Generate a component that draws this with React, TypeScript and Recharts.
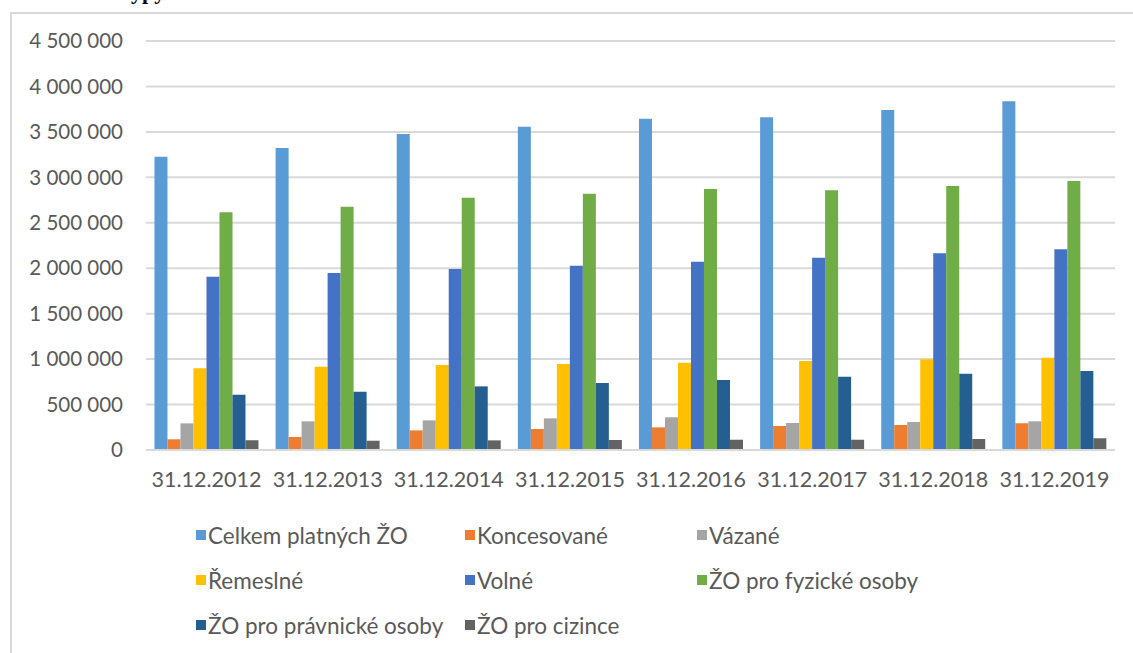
import { BarChart, Bar, XAxis, YAxis, CartesianGrid, Legend } from "recharts";

const dates = [
  "31.12.2012",
  "31.12.2013",
  "31.12.2014",
  "31.12.2015",
  "31.12.2016",
  "31.12.2017",
  "31.12.2018",
  "31.12.2019",
];

const celkem = [3227000, 3323000, 3477000, 3557000, 3645000, 3660000, 3741000, 3836000];
const koncesovane = [118000, 143000, 216000, 231000, 249000, 264000, 275000, 293000];
const vazane = [293000, 315000, 326000, 348000, 360000, 297000, 308000, 316000];
const remeslne = [899000, 917000, 935000, 946000, 961000, 979000, 998000, 1016000];
const volne = [1907000, 1947000, 1991000, 2028000, 2072000, 2116000, 2164000, 2208000];
const fyzicke = [2615000, 2677000, 2776000, 2820000, 2872000, 2857000, 2905000, 2960000];
const pravnicke = [608000, 641000, 700000, 737000, 770000, 807000, 840000, 869000];
const cizince = [106000, 102000, 106000, 110000, 113000, 113000, 121000, 129000];

const yTicks = [0, 500000, 1000000, 1500000, 2000000, 2500000, 3000000, 3500000, 4000000, 4500000];

const series = [
  { key: "celkem", name: "Celkem platných ŽO", color: "#5b9bd5", values: celkem },
  { key: "koncesovane", name: "Koncesované", color: "#ed7d31", values: koncesovane },
  { key: "vazane", name: "Vázané", color: "#a5a5a5", values: vazane },
  { key: "remeslne", name: "Řemeslné", color: "#ffc000", values: remeslne },
  { key: "volne", name: "Volné", color: "#4472c4", values: volne },
  { key: "fyzicke", name: "ŽO pro fyzické osoby", color: "#70ad47", values: fyzicke },
  { key: "pravnicke", name: "ŽO pro právnické osoby", color: "#255e91", values: pravnicke },
  { key: "cizince", name: "ŽO pro cizince", color: "#636363", values: cizince },
];

const data = dates.map((d, i) => {
  const row: Record<string, string | number> = { date: d };
  for (const s of series) row[s.key] = s.values[i];
  return row;
});

const fmt = (v: number) => String(v).replace(/\B(?=(\d{3})+(?!\d))/g, " ");

const FONT = "Lato, 'Open Sans', sans-serif";
const TEXT = "#595959";

// legend columns (left x of the swatch) and row centres, as in the Excel layout
const legendCols = [196, 465, 697];
const legendRows = [535, 580, 625];
const LEGEND_TOP = 520;
const LEGEND_H = 130;
const XAXIS_H = 70;

function LegendBox() {
  return (
    <div style={{ position: "relative", width: 1133, height: LEGEND_H }}>
      {series.map((s, i) => {
        const col = i % 3;
        const row = Math.floor(i / 3);
        return (
          <div
            key={s.key}
            style={{
              position: "absolute",
              left: legendCols[col],
              top: legendRows[row] - LEGEND_TOP - 14,
              height: 28,
              display: "flex",
              alignItems: "center",
              whiteSpace: "nowrap",
              fontFamily: FONT,
              fontSize: 22.5,
              color: TEXT,
            }}
          >
            <span
              style={{
                display: "inline-block",
                width: 10,
                height: 10,
                background: s.color,
                marginRight: 2,
              }}
            />
            {s.name}
          </div>
        );
      })}
    </div>
  );
}

export default function App() {
  return (
    <div style={{ position: "absolute", left: 0, top: 0, width: 1133, height: 653, overflow: "hidden", background: "#fff" }}>
      <div
        style={{
          position: "absolute",
          left: 118,
          top: -19,
          fontFamily: "'Liberation Serif', serif",
          fontWeight: "bold",
          fontSize: 22,
          lineHeight: "22px",
          color: "#000",
        }}
      >
        Typy
      </div>
      <div
        style={{
          position: "absolute",
          left: 10,
          top: 12,
          width: 1200,
          height: 700,
          borderLeft: "2px solid #d9d9d9",
          borderTop: "2px solid #d9d9d9",
        }}
      />
      <div style={{ position: "absolute", left: 0, top: 0 }}>
        <BarChart
          width={1133}
          height={653}
          data={data}
          margin={{ top: 41, right: 18, bottom: 203 - LEGEND_H - XAXIS_H, left: 0 }}
          barCategoryGap="7%"
          barGap={0}
        >
          <CartesianGrid vertical={false} stroke="#d9d9d9" strokeWidth={2} />
          <XAxis
            dataKey="date"
            tickLine={false}
            tickSize={0}
            tickMargin={22}
            axisLine={{ stroke: "#d9d9d9", strokeWidth: 2 }}
            tick={{ fill: TEXT, fontSize: 21.5, fontFamily: FONT }}
            interval={0}
            height={XAXIS_H}
          />
          <YAxis
            domain={[0, 4500000]}
            ticks={yTicks}
            interval={0}
            tickFormatter={fmt}
            tickLine={false}
            tickSize={0}
            tickMargin={23}
            axisLine={false}
            width={146}
            tick={{ fill: TEXT, fontSize: 20.5, fontFamily: FONT }}
          />
          <Legend
            verticalAlign="bottom"
            height={LEGEND_H}
            wrapperStyle={{ position: "absolute", left: 0, top: LEGEND_TOP, width: 1133, height: LEGEND_H }}
            content={() => <LegendBox />}
          />
          {series.map((s) => (
            <Bar key={s.key} dataKey={s.key} name={s.name} fill={s.color} isAnimationActive={false} />
          ))}
        </BarChart>
      </div>
    </div>
  );
}
